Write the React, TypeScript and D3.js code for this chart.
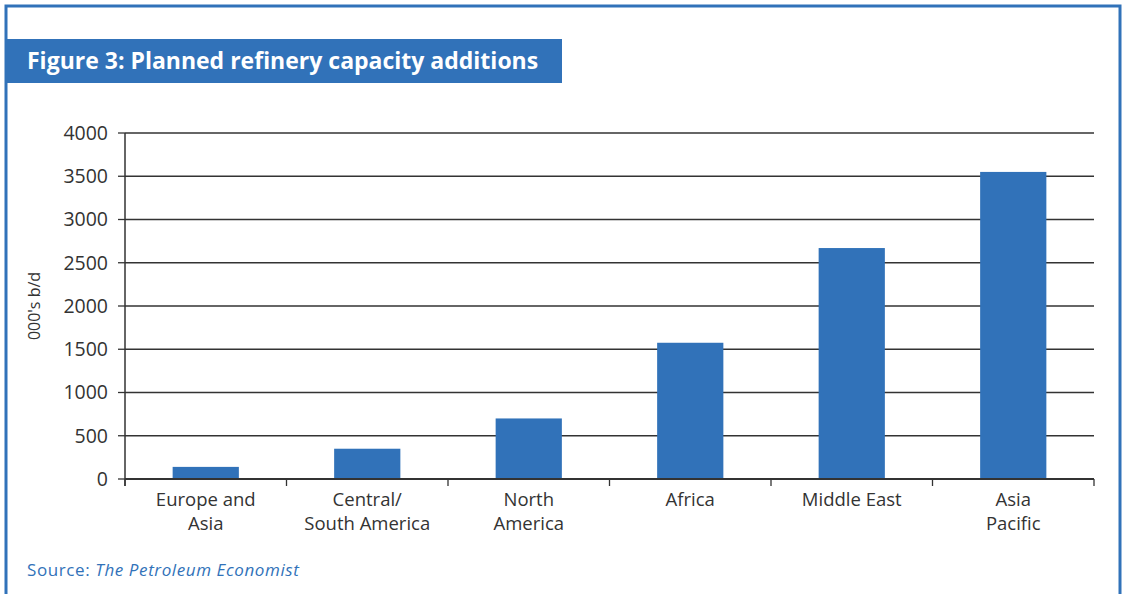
import * as d3 from "d3";

const categories = [
  "Europe and\nAsia",
  "Central/\nSouth America",
  "North\nAmerica",
  "Africa",
  "Middle East",
  "Asia\nPacific",
];
const values = [140, 350, 700, 1575, 2670, 3550];
const yTickValues = [0, 500, 1000, 1500, 2000, 2500, 3000, 3500, 4000];

const W = 1142;
const H = 594;
const BLUE = "#3172b9";
const INK = "#333";
const FONT = "'Open Sans', 'DejaVu Sans', sans-serif";

export default function App() {
  const margin = { left: 125, right: W - 1094, top: 133, bottom: H - 479 };
  const x = d3
    .scaleBand<string>()
    .domain(categories)
    .range([margin.left, W - margin.right])
    .paddingInner(0.59)
    .paddingOuter(0.295);
  const y = d3
    .scaleLinear()
    .domain([0, 4000])
    .range([H - margin.bottom, margin.top]);

  const step = x.step();
  const x0 = margin.left;
  const x1 = W - margin.right;
  const bounds = d3.range(categories.length + 1).map((i) => x0 + i * step);

  return (
    <svg
      width={W}
      height={H}
      style={{ position: "absolute", left: 0, top: 0, background: "#fff" }}
      fontFamily={FONT}
    >
      {/* frame */}
      <rect x={6} y={6} width={1114} height={H + 10} fill="none" stroke={BLUE} strokeWidth={3} />

      {/* title band */}
      <rect x={7} y={39} width={555} height={44} fill={BLUE} />
      <text x={27} y={69} fill="#fff" fontSize={23} fontWeight={700}>
        Figure 3: Planned refinery capacity additions
      </text>

      {/* grid lines */}
      {yTickValues.map((t) => (
        <g key={t}>
          <line x1={x0} x2={x1} y1={y(t)} y2={y(t)} stroke={INK} strokeWidth={1.3} />
          <line x1={x0 - 7} x2={x0} y1={y(t)} y2={y(t)} stroke={INK} strokeWidth={1.3} />
          <text
            x={x0 - 17}
            y={y(t)}
            dy="0.35em"
            textAnchor="end"
            fontSize={19.5}
            fill={INK}
          >
            {t}
          </text>
        </g>
      ))}

      {/* bars */}
      {categories.map((c, i) => (
        <rect
          key={c}
          x={x(c)}
          y={y(values[i])}
          width={x.bandwidth()}
          height={y(0) - y(values[i])}
          fill={BLUE}
        />
      ))}

      {/* axes */}
      <line x1={x0} x2={x0} y1={y(4000)} y2={y(0) + 7} stroke={INK} strokeWidth={1.5} />
      <line x1={x0} x2={x1} y1={y(0)} y2={y(0)} stroke={INK} strokeWidth={2} />
      {bounds.map((b, i) => (
        <line key={i} x1={b} x2={b} y1={y(0)} y2={y(0) + 7} stroke={INK} strokeWidth={1.3} />
      ))}

      {/* category labels */}
      {categories.map((c) => (
        <text
          key={c}
          x={(x(c) ?? 0) + x.bandwidth() / 2}
          y={y(0) + 27}
          textAnchor="middle"
          fontSize={18.5}
          fill={INK}
        >
          {c.split("\n").map((line, j) => (
            <tspan key={j} x={(x(c) ?? 0) + x.bandwidth() / 2} dy={j === 0 ? 0 : 24}>
              {line}
            </tspan>
          ))}
        </text>
      ))}

      {/* y title */}
      <text
        transform={`translate(40, ${(y(0) + y(4000)) / 2}) rotate(-90)`}
        textAnchor="middle"
        fontSize={16}
        fill={INK}
      >
        000's b/d
      </text>

      {/* source */}
      <text x={27} y={576} fontSize={17} letterSpacing={0.6} fill={BLUE}>
        Source: <tspan fontStyle="italic">The Petroleum Economist</tspan>
      </text>
    </svg>
  );
}
